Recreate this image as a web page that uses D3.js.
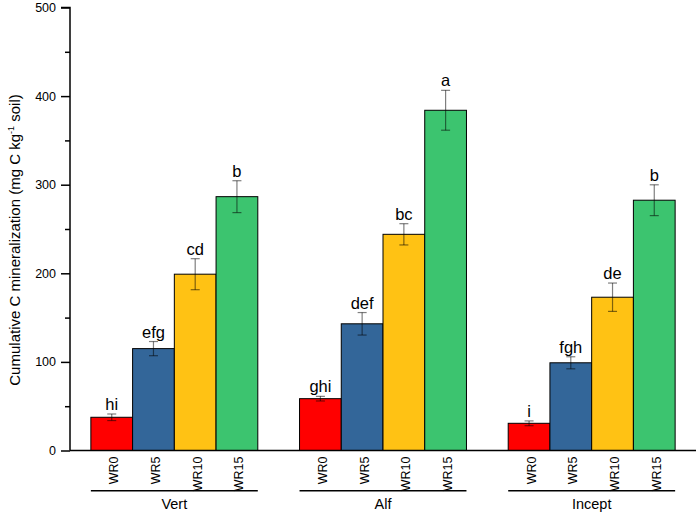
<!DOCTYPE html>
<html>
<head>
<meta charset="utf-8">
<script src="https://cdn.jsdelivr.net/npm/d3@7"></script>
<style>
  body { margin: 0; background: #fff; }
  text { font-family: Arial, "Liberation Sans", sans-serif; fill: #000; }
</style>
</head>
<body>
<script>
// values
var soils = ["Vert", "Alf", "Incept"];
var treatments = ["WR0", "WR5", "WR10", "WR15"];
var colors = ["#FF0000", "#336699", "#FFC214", "#3CC46F"];
var means = [
    [37.5, 115, 199, 286.5],
    [58.5, 143, 244, 384],
    [30.7, 99, 173, 282.5]
];
var errs = [
    [3.7, 8, 17.5, 18],
    [2.6, 12.7, 12, 22.5],
    [2.7, 6.8, 16, 17.4]
];
var letters = [
    ["hi", "efg", "cd", "b"],
    ["ghi", "def", "bc", "a"],
    ["i", "fgh", "de", "b"]
];
var yTicks = [0, 100, 200, 300, 400, 500];

var width = 699, height = 514;
var margin = {left: 70, right: 3, top: 7.5, bottom: 63.5};

var svg = d3.select("body").append("svg")
        .attr("width", width)
        .attr("height", height);

var x0 = d3.scaleBand().domain(soils)
        .range([margin.left, width - margin.right])
        .paddingInner(0.2).paddingOuter(0.1);
var x1 = d3.scaleBand().domain(treatments).range([0, x0.bandwidth()]);
var y = d3.scaleLinear().domain([0, 500]).range([height - margin.bottom, margin.top]);

var data = [];
soils.forEach(function(s, i) {
    treatments.forEach(function(t, j) {
        data.push({soil: s, tr: t, j: j, v: means[i][j], e: errs[i][j], lab: letters[i][j]});
    });
});

// bars
var g = svg.append("g");
g.selectAll("rect").data(data).enter().append("rect")
        .attr("x", function(d) { return x0(d.soil) + x1(d.tr); })
        .attr("y", function(d) { return y(d.v); })
        .attr("width", x1.bandwidth())
        .attr("height", function(d) { return y(0) - y(d.v); })
        .style("fill", function(d) { return colors[d.j]; })
        .style("stroke", "#000")
        .style("stroke-width", 1);

// error bars
var eb = g.selectAll(".err").data(data).enter().append("g")
        .attr("class", "err")
        .attr("transform", function(d) { return "translate(" + (x0(d.soil) + x1(d.tr) + x1.bandwidth() / 2) + ",0)"; })
        .style("stroke", "rgba(0,0,0,0.5)")
        .style("stroke-width", 1.2);
eb.append("line")
        .attr("y1", function(d) { return y(d.v + d.e); })
        .attr("y2", function(d) { return y(d.v - d.e); });
eb.append("line").attr("x1", -4.5).attr("x2", 4.5)
        .attr("y1", function(d) { return y(d.v + d.e); })
        .attr("y2", function(d) { return y(d.v + d.e); });
eb.append("line").attr("x1", -4.5).attr("x2", 4.5)
        .attr("y1", function(d) { return y(d.v - d.e); })
        .attr("y2", function(d) { return y(d.v - d.e); });

// significance letters
g.selectAll(".lab").data(data).enter().append("text")
        .attr("class", "lab")
        .attr("x", function(d) { return x0(d.soil) + x1(d.tr) + x1.bandwidth() / 2; })
        .attr("y", function(d) { return y(d.v + d.e) - 4; })
        .attr("text-anchor", "middle")
        .style("font-size", "16.5px")
        .text(function(d) { return d.lab; });

// y axis with minor ticks
var yAxis = svg.append("g")
        .attr("transform", "translate(" + margin.left + ",0)")
        .call(d3.axisLeft(y).tickValues(yTicks).tickSize(9).tickPadding(5).tickFormat(d3.format("d")));
svg.append("g")
        .attr("transform", "translate(" + margin.left + ",0)")
        .call(d3.axisLeft(y).tickValues([50, 150, 250, 350, 450]).tickSize(5).tickFormat(""))
        .select(".domain").remove();
yAxis.selectAll("text").style("font-size", "12.5px").style("font-family", "Arial, 'Liberation Sans', sans-serif");
svg.selectAll(".domain, .tick line").style("stroke", "#000").style("stroke-width", 1.5);
yAxis.select(".domain").attr("d", "M-9," + y(500) + "H0V" + y(0));

// x axis line
svg.append("line")
        .attr("x1", margin.left).attr("x2", width - margin.right)
        .attr("y1", y(0)).attr("y2", y(0))
        .style("stroke", "#000").style("stroke-width", 1.5);

// treatment labels
g.selectAll(".trlab").data(data).enter().append("text")
        .attr("class", "trlab")
        .attr("transform", function(d) {
            return "translate(" + (x0(d.soil) + x1(d.tr) + x1.bandwidth() / 2 + 6.5) + "," + (y(0) + 6) + ") rotate(-90)";
        })
        .attr("text-anchor", "end")
        .style("font-size", "12.5px")
        .text(function(d) { return d.tr; });

// soil group lines and labels
var grp = svg.selectAll(".grp").data(soils).enter().append("g").attr("class", "grp");
grp.append("line")
        .attr("x1", function(d) { return x0(d); })
        .attr("x2", function(d) { return x0(d) + x0.bandwidth(); })
        .attr("y1", 490.7).attr("y2", 490.7)
        .style("stroke", "#000").style("stroke-width", 1.5);
grp.append("text")
        .attr("x", function(d) { return x0(d) + x0.bandwidth() / 2; })
        .attr("y", 508.5)
        .attr("text-anchor", "middle")
        .style("font-size", "14.5px")
        .text(function(d) { return d; });

// y title
var title = svg.append("text")
        .attr("transform", "translate(20," + ((y(0) + y(500)) / 2 + 11) + ") rotate(-90)")
        .attr("text-anchor", "middle")
        .style("font-size", "15px");
title.append("tspan").text("Cumulative C mineralization (mg C kg");
title.append("tspan").attr("dy", -6).style("font-size", "9px").text("-1");
title.append("tspan").attr("dy", 6).text(" soil)");
</script>
</body>
</html>
